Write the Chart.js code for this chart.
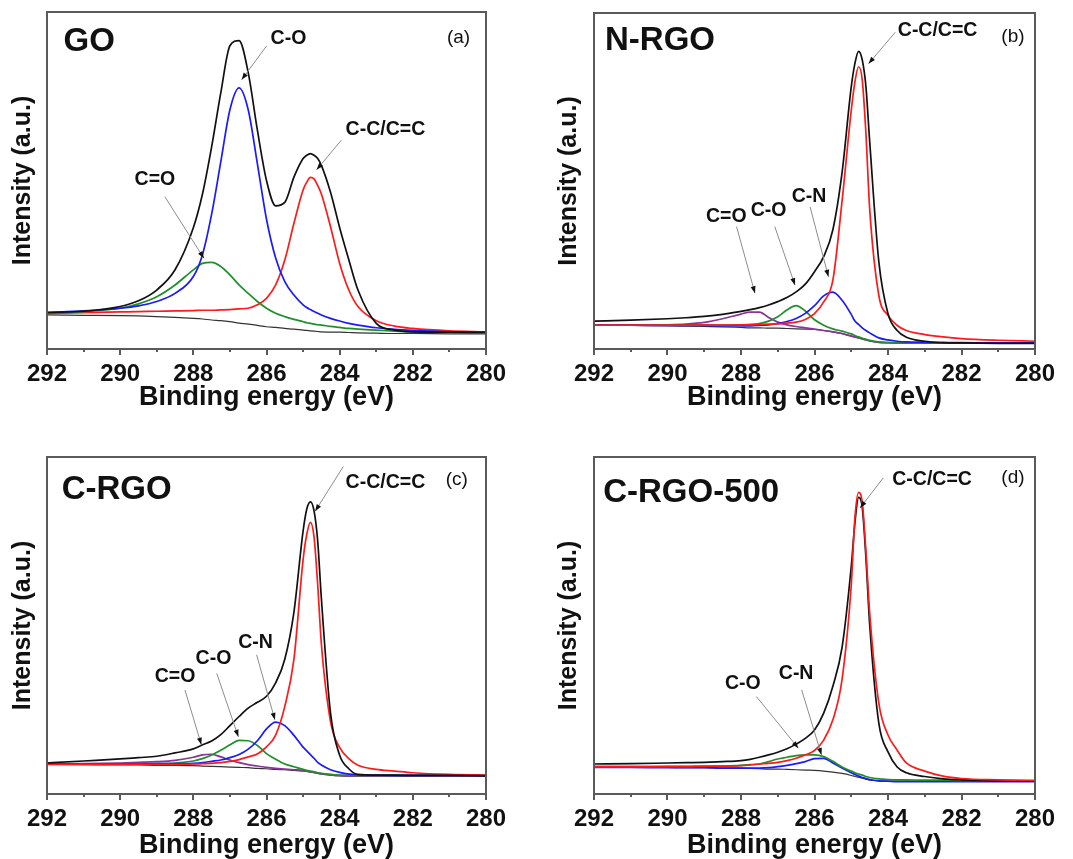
<!DOCTYPE html>
<html lang="en">
<head>
<meta charset="UTF-8">
<title>C1s XPS spectra</title>
<script src="https://cdn.jsdelivr.net/npm/chart.js"></script>
<style>
  body { margin: 0; background: #fff; overflow: hidden; }
  .panel { position: absolute; }
</style>
</head>
<body>
<div class="panel" style="left:0;top:0"><canvas id="chartA" width="536" height="418"></canvas></div>
<div class="panel" style="left:546px;top:0"><canvas id="chartB" width="527" height="418"></canvas></div>
<div class="panel" style="left:0;top:440px"><canvas id="chartC" width="536" height="426"></canvas></div>
<div class="panel" style="left:546px;top:440px"><canvas id="chartD" width="527" height="426"></canvas></div>

<script>
// binding energy grid (eV), shared by every curve
var energy = [292, 291, 290, 289.5, 289, 288.5, 288, 287.75, 287.5, 287.25, 287, 286.75, 286.5, 286.25, 286,
  285.75, 285.5, 285.25, 285, 284.9, 284.8, 284.7, 284.6, 284.5, 284.25, 284, 283.75, 283.5, 283, 282.5, 282, 281, 280];
var energyTicks = [292, 290, 288, 286, 284, 282, 280];

// (a) GO
var goEnvelope = [10.9, 11.2, 12.6, 14.3, 17.5, 23.5, 36.0, 46.0, 60.0, 76.0, 90.0, 91.5, 82.0, 65.0, 50.0,
  42.5, 43.5, 51.0, 56.5, 57.5, 58.0, 57.5, 56.5, 54.5, 46.5, 36.0, 26.5, 17.5, 7.6, 5.6, 5.1, 5.0, 4.9];
var goCO = [10.8, 11.3, 12.1, 12.8, 14.1, 16.5, 21.5, 28.0, 40.0, 55.5, 71.0, 77.5, 71.0, 55.0, 38.5,
  27.0, 20.0, 16.0, 13.1, 12.3, 11.7, 11.1, 10.6, 10.1, 9.1, 8.3, 7.6, 7.1, 6.3, 5.8, 5.5, 5.1, 5.0];
var goCdO = [10.6, 11.1, 12.1, 13.4, 15.5, 19.0, 23.5, 25.4, 25.7, 24.5, 22.0, 19.0, 16.5, 14.1, 12.1,
  10.6, 9.6, 8.8, 8.1, 7.8, 7.6, 7.4, 7.2, 7.1, 6.7, 6.4, 6.1, 5.9, 5.6, 5.3, 5.1, 5.0, 4.9];
var goCC = [10.6, 10.8, 11.0, 11.1, 11.2, 11.3, 11.4, 11.5, 11.5, 11.6, 11.7, 11.9, 12.1, 13.1, 15.0,
  19.0, 26.4, 37.3, 47.2, 49.5, 50.9, 50.5, 48.5, 46.0, 36.3, 25.4, 17.5, 12.6, 8.4, 6.8, 6.1, 5.4, 5.1];
var goBase = [10.1, 10.0, 9.9, 9.8, 9.6, 9.4, 9.1, 8.9, 8.6, 8.4, 8.1, 7.7, 7.4, 7.0, 6.6,
  6.4, 6.1, 5.9, 5.6, 5.5, 5.4, 5.3, 5.2, 5.1, 5.0, 5.0, 4.9, 4.8, 4.7, 4.6, 4.6, 4.5, 4.5];

// (b) N-RGO
var nEnvelope = [8.3, 8.6, 9.0, 9.3, 9.7, 10.3, 11.2, 11.7, 12.3, 13.1, 14.1, 15.3, 17.0, 19.3, 23.0,
  27.5, 35.5, 52.5, 78.0, 85.0, 88.6, 86.0, 78.0, 62.0, 26.0, 10.5, 5.5, 3.5, 2.3, 1.9, 1.8, 1.7, 1.7];
var nCC = [7.1, 7.1, 7.1, 7.1, 7.1, 7.1, 7.2, 7.2, 7.3, 7.4, 7.5, 7.7, 8.0, 8.8, 10.5,
  14.0, 20.5, 44.0, 71.0, 79.5, 84.0, 80.0, 64.0, 42.0, 16.0, 10.0, 7.0, 5.5, 4.3, 3.6, 3.1, 2.6, 2.3];
var nCN = [7.1, 7.1, 7.0, 7.0, 7.0, 6.9, 6.9, 6.9, 7.0, 7.2, 7.6, 8.2, 9.1, 10.6, 12.9,
  15.8, 16.9, 14.5, 10.3, 8.3, 7.3, 6.3, 5.5, 4.8, 3.3, 2.7, 2.3, 2.1, 2.0, 1.9, 1.9, 1.8, 1.8];
var nCO = [7.1, 7.1, 7.1, 7.1, 7.1, 7.1, 7.2, 7.3, 7.6, 8.3, 9.6, 11.6, 12.9, 11.3, 8.7,
  7.1, 6.0, 5.3, 4.5, 4.0, 3.6, 3.2, 2.9, 2.6, 2.1, 1.9, 1.8, 1.8, 1.8, 1.8, 1.8, 1.8, 1.8];
var nCdO = [7.1, 7.1, 7.2, 7.4, 7.9, 9.0, 10.4, 11.0, 11.0, 9.4, 8.0, 7.2, 6.7, 6.3, 5.9,
  5.5, 5.1, 4.6, 3.8, 3.6, 3.3, 3.0, 2.7, 2.4, 2.0, 1.9, 1.8, 1.8, 1.8, 1.8, 1.8, 1.8, 1.8];
var nBase = [7.1, 7.0, 6.9, 6.8, 6.7, 6.6, 6.4, 6.3, 6.3, 6.2, 6.2, 6.1, 6.0, 5.9, 5.8,
  5.5, 5.1, 4.6, 3.9, 3.6, 3.3, 3.0, 2.7, 2.4, 2.0, 1.9, 1.8, 1.8, 1.8, 1.8, 1.8, 1.8, 1.8];

// (c) C-RGO
var cEnvelope = [9.2, 9.8, 10.4, 10.8, 11.2, 12.2, 13.4, 14.6, 15.7, 17.6, 20.3, 23.0, 25.5, 27.2, 29.0,
  33.0, 40.0, 54.0, 78.0, 84.5, 86.7, 84.0, 75.0, 58.0, 24.0, 11.5, 7.5, 5.8, 5.6, 5.6, 5.5, 5.5, 5.4];
var cCC = [8.8, 8.8, 8.8, 8.8, 8.8, 8.8, 8.9, 9.0, 9.1, 9.3, 9.7, 10.2, 11.0, 11.9, 14.0,
  17.5, 26.0, 40.0, 69.5, 77.0, 80.6, 76.2, 62.0, 44.5, 21.5, 13.8, 10.5, 8.5, 7.3, 6.8, 6.3, 5.8, 5.6];
var cCN = [8.9, 8.9, 8.9, 8.9, 9.0, 9.0, 9.1, 9.3, 9.7, 10.1, 10.8, 11.7, 13.3, 15.8, 19.3,
  21.3, 20.3, 17.4, 13.9, 12.8, 11.7, 10.6, 9.4, 8.6, 7.2, 6.4, 5.9, 5.7, 5.6, 5.5, 5.5, 5.5, 5.5];
var cCO = [8.9, 8.9, 8.9, 8.9, 9.0, 9.2, 9.8, 10.5, 11.6, 13.0, 14.6, 15.9, 15.8, 14.4, 12.0,
  10.3, 8.9, 8.1, 7.3, 7.0, 6.8, 6.6, 6.3, 6.1, 5.8, 5.6, 5.5, 5.5, 5.5, 5.5, 5.5, 5.5, 5.5];
var cCdO = [8.9, 9.0, 9.2, 9.4, 9.6, 10.0, 10.9, 11.6, 11.8, 11.0, 10.1, 9.3, 8.7, 8.3, 7.9,
  7.6, 7.4, 7.2, 7.0, 6.8, 6.6, 6.4, 6.2, 6.0, 5.7, 5.5, 5.4, 5.4, 5.4, 5.4, 5.4, 5.4, 5.4];
var cBase = [8.8, 8.7, 8.6, 8.6, 8.5, 8.5, 8.4, 8.3, 8.2, 8.1, 8.0, 7.9, 7.8, 7.6, 7.5,
  7.3, 7.2, 7.0, 6.8, 6.7, 6.5, 6.3, 6.1, 5.9, 5.6, 5.4, 5.3, 5.3, 5.3, 5.3, 5.3, 5.3, 5.3];

// (d) C-RGO-500
var dEnvelope = [8.9, 9.0, 9.2, 9.3, 9.4, 9.6, 9.9, 10.3, 10.9, 11.6, 12.4, 13.4, 14.8, 16.5, 19.0,
  24.0, 32.0, 43.5, 67.5, 80.5, 88.0, 85.0, 70.0, 50.5, 21.0, 12.5, 8.0, 6.3, 5.2, 4.5, 4.2, 3.9, 3.8];
var dCC = [8.1, 8.1, 8.2, 8.2, 8.3, 8.3, 8.4, 8.6, 8.9, 9.1, 9.4, 9.9, 10.6, 11.6, 12.9,
  16.0, 22.0, 34.0, 62.0, 82.0, 89.5, 86.5, 72.0, 54.0, 27.0, 17.5, 13.0, 9.2, 6.8, 5.3, 4.6, 4.2, 4.0];
var dCO = [8.1, 8.1, 8.1, 8.1, 8.2, 8.3, 8.5, 8.7, 8.9, 9.6, 10.4, 10.9, 11.4, 11.6, 11.6,
  11.1, 9.7, 8.0, 6.8, 6.3, 5.9, 5.6, 5.2, 4.9, 4.5, 4.3, 4.2, 4.2, 4.1, 4.1, 4.0, 4.0, 4.0];
var dCN = [7.9, 7.9, 7.8, 7.8, 7.8, 7.7, 7.7, 7.7, 7.7, 7.8, 8.1, 8.5, 9.0, 9.6, 10.5,
  10.6, 9.2, 7.7, 6.3, 5.8, 5.3, 4.9, 4.6, 4.3, 3.9, 3.8, 3.7, 3.7, 3.7, 3.7, 3.7, 3.7, 3.7];
var dBase = [8.1, 8.0, 7.9, 7.8, 7.8, 7.7, 7.7, 7.6, 7.5, 7.4, 7.4, 7.3, 7.2, 7.1, 7.0,
  6.8, 6.5, 6.1, 5.5, 5.2, 5.0, 4.7, 4.4, 4.1, 3.9, 3.8, 3.8, 3.8, 3.8, 3.8, 3.8, 3.8, 3.8];

var BLACK = '#111111', RED = '#ff1a1a', BLUE = '#1a1aff', GREEN = '#1f8f2a', PURPLE = '#8a3399', BASE = '#333333';
var FONT = '"Liberation Sans", Arial, sans-serif';

function curve(values, color, width) {
  return {
    data: energy.map(function (e, i) { return { x: e, y: values[i] }; }),
    borderColor: color,
    borderWidth: width || 1.7,
    pointRadius: 0,
    fill: false,
    cubicInterpolationMode: 'monotone'
  };
}

// frame, outward ticks, panel name, tag and arrow labels
var xpsDecor = {
  id: 'xpsDecor',
  afterDatasetsDraw: function (chart, args, opts) {
    var ctx = chart.ctx, a = chart.chartArea, xs = chart.scales.x, ys = chart.scales.y;
    ctx.save();
    ctx.strokeStyle = '#5a5a5a';
    ctx.lineWidth = 2;
    ctx.strokeRect(a.left, a.top, a.right - a.left, a.bottom - a.top);
    for (var e = 280; e <= 292; e++) {
      var px = Math.round(xs.getPixelForValue(e));
      ctx.beginPath();
      ctx.moveTo(px, a.bottom);
      ctx.lineTo(px, a.bottom + (e % 2 === 0 ? 6 : 3));
      ctx.stroke();
    }

    ctx.fillStyle = BLACK;
    ctx.textBaseline = 'middle';
    ctx.textAlign = 'left';
    ctx.font = 'bold 33px ' + FONT;
    ctx.fillText(opts.title[0], xs.getPixelForValue(opts.title[1]), ys.getPixelForValue(opts.title[2]));
    ctx.textAlign = 'center';
    ctx.font = '19px ' + FONT;
    ctx.fillText(opts.tag[0], xs.getPixelForValue(opts.tag[1]), ys.getPixelForValue(opts.tag[2]));

    opts.notes.forEach(function (n) {
      var x0 = xs.getPixelForValue(n.from[0]), y0 = ys.getPixelForValue(n.from[1]);
      var x1 = xs.getPixelForValue(n.to[0]), y1 = ys.getPixelForValue(n.to[1]);
      ctx.strokeStyle = '#8c8c8c';
      ctx.lineWidth = 1;
      ctx.beginPath();
      ctx.moveTo(x0, y0);
      ctx.lineTo(x1, y1);
      ctx.stroke();
      var ang = Math.atan2(y1 - y0, x1 - x0);
      ctx.fillStyle = BLACK;
      ctx.beginPath();
      ctx.moveTo(x1, y1);
      ctx.lineTo(x1 - 7 * Math.cos(ang) + 2.5 * Math.sin(ang), y1 - 7 * Math.sin(ang) - 2.5 * Math.cos(ang));
      ctx.lineTo(x1 - 7 * Math.cos(ang) - 2.5 * Math.sin(ang), y1 - 7 * Math.sin(ang) + 2.5 * Math.cos(ang));
      ctx.closePath();
      ctx.fill();
      ctx.font = 'bold 19.5px ' + FONT;
      ctx.fillText(n.text, xs.getPixelForValue(n.at[0]), ys.getPixelForValue(n.at[1]));
    });
    ctx.restore();
  }
};

function makeChart(id, box, datasets, decor) {
  var canvas = document.getElementById(id);
  return new Chart(canvas.getContext('2d'), {
    type: 'line',
    data: { datasets: datasets },
    options: {
      responsive: false,
      animation: false,
      events: [],
      layout: { padding: { top: box.top, right: canvas.width - box.right, left: 0, bottom: 0 } },
      plugins: { legend: { display: false }, tooltip: { enabled: false }, xpsDecor: decor },
      scales: {
        x: {
          type: 'linear', min: 280, max: 292, reverse: true,
          afterBuildTicks: function (s) { s.ticks = energyTicks.map(function (v) { return { value: v }; }); },
          afterFit: function (s) { s.height = canvas.height - box.bottom; },
          grid: { display: false }, border: { display: false },
          ticks: { autoSkip: false, maxRotation: 0, padding: 3, color: BLACK, font: { family: FONT, size: 24, weight: 'bold' } },
          title: { display: true, text: 'Binding energy (eV)', color: BLACK, padding: { top: 4, bottom: 4 },
                   font: { family: FONT, size: 27, weight: 'bold' } }
        },
        y: {
          min: 0, max: 100,
          afterFit: function (s) { s.width = box.left; },
          grid: { display: false }, border: { display: false },
          ticks: { display: false },
          title: { display: true, text: 'Intensity (a.u.)', color: BLACK, padding: { top: 8, bottom: 0 },
                   font: { family: FONT, size: 25, weight: 'bold' } }
        }
      }
    },
    plugins: [xpsDecor]
  });
}

makeChart('chartA', { left: 47, right: 486, top: 12, bottom: 349 }, [
  curve(goEnvelope, BLACK), curve(goCO, BLUE), curve(goCdO, GREEN), curve(goCC, RED), curve(goBase, BASE, 1.2)
], {
  title: ['GO', 291.55, 91], tag: ['(a)', 280.75, 92.3],
  notes: [
    { text: 'C-O', at: [285.4, 92], from: [286.0, 89.9], to: [286.68, 79.9] },
    { text: 'C-C/C=C', at: [282.75, 65], from: [283.95, 62], to: [284.63, 53.2] },
    { text: 'C=O', at: [289.05, 50.2], from: [288.78, 45.2], to: [287.71, 26.9] }
  ]
});

makeChart('chartB', { left: 48, right: 489, top: 13, bottom: 349 }, [
  curve(nEnvelope, BLACK), curve(nCC, RED), curve(nCN, BLUE), curve(nCO, GREEN), curve(nCdO, PURPLE), curve(nBase, BASE, 1.2)
], {
  title: ['N-RGO', 291.7, 91.7], tag: ['(b)', 280.6, 92.9],
  notes: [
    { text: 'C-C/C=C', at: [282.65, 94.8], from: [283.8, 94.3], to: [284.53, 84.9] },
    { text: 'C=O', at: [288.4, 39.3], from: [288.12, 36.4], to: [287.62, 16.6] },
    { text: 'C-O', at: [287.25, 41.3], from: [287.08, 36.4], to: [286.53, 19.0] },
    { text: 'C-N', at: [286.15, 45.3], from: [286.12, 42.3], to: [285.62, 21.5] }
  ]
});

makeChart('chartC', { left: 47, right: 486, top: 17, bottom: 354 }, [
  curve(cEnvelope, BLACK), curve(cCC, RED), curve(cCN, BLUE), curve(cCO, GREEN), curve(cCdO, PURPLE), curve(cBase, BASE, 1.2)
], {
  title: ['C-RGO', 291.6, 90.1], tag: ['(c)', 280.8, 93.3],
  notes: [
    { text: 'C-C/C=C', at: [282.75, 92.3], from: [283.9, 97.2], to: [284.67, 83.9] },
    { text: 'C=O', at: [288.5, 34.9], from: [288.23, 30.9], to: [287.78, 14.6] },
    { text: 'C-O', at: [287.45, 40.3], from: [287.36, 35.8], to: [286.77, 17.0] },
    { text: 'C-N', at: [286.3, 44.8], from: [286.27, 41.3], to: [285.77, 22.0] }
  ]
});

makeChart('chartD', { left: 48, right: 489, top: 17, bottom: 354 }, [
  curve(dCC, RED), curve(dEnvelope, BLACK), curve(dCO, GREEN), curve(dCN, BLUE), curve(dBase, BASE, 1.2)
], {
  title: ['C-RGO-500', 291.75, 89.3], tag: ['(d)', 280.6, 93.8],
  notes: [
    { text: 'C-C/C=C', at: [282.8, 93.3], from: [284.13, 93.8], to: [284.76, 84.9] },
    { text: 'C-O', at: [287.95, 32.9], from: [287.58, 28.9], to: [286.44, 13.6] },
    { text: 'C-N', at: [286.5, 35.8], from: [286.35, 30.9], to: [285.81, 11.6] }
  ]
});
</script>
</body>
</html>
